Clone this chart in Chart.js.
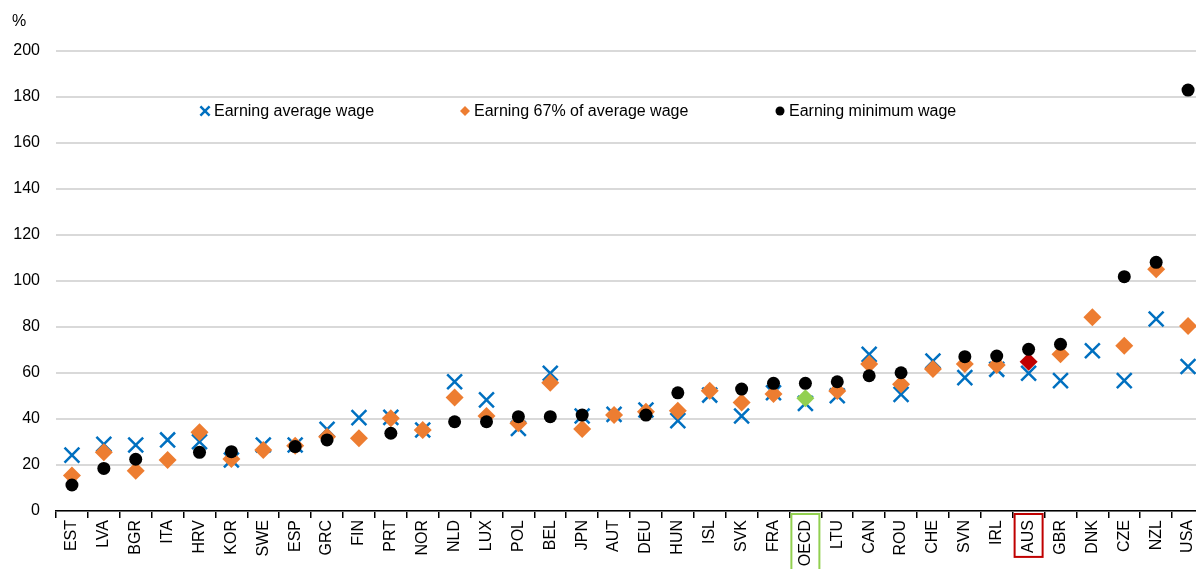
<!DOCTYPE html>
<html>
<head>
<meta charset="utf-8">
<script src="https://cdn.jsdelivr.net/npm/chart.js@4.4.1/dist/chart.umd.min.js"></script>
<style>
  html, body { margin: 0; background: #fff; overflow: hidden; }
  #outer { width: 1196px; height: 569px; overflow: hidden; }
  #wrap { width: 1204px; height: 569px; position: relative; }
</style>
</head>
<body>
<div id="outer"><div id="wrap"><canvas id="wageChart"></canvas></div></div>
<script>
const countries = ['EST','LVA','BGR','ITA','HRV','KOR','SWE','ESP','GRC','FIN','PRT','NOR','NLD','LUX','POL','BEL','JPN','AUT','DEU','HUN','ISL','SVK','FRA','OECD','LTU','CAN','ROU','CHE','SVN','IRL','AUS','GBR','DNK','CZE','NZL','USA'];

const averageWage = [24.3, 29, 28.7, 30.9, 30.1, 22.2, 28.7, 28.7, 35.5, 40.6, 40.7, 35.2, 56.2, 48.3, 35.9, 59.9, 41.3, 42, 43.9, 39.3, 50.4, 41.3, 51.4, 46.8, 50.1, 68.1, 50.7, 65.2, 58, 61.6, 59.9, 56.7, 69.7, 56.7, 83.5, 62.8];
const wage67 = [15.4, 25.5, 17.5, 22.2, 34.2, 22.6, 26.5, 28.4, 32.3, 31.6, 40.3, 35.2, 49.3, 41.3, 38.1, 55.8, 35.6, 41.7, 43.2, 43.6, 52.3, 47.2, 50.9, 49, 52.2, 63.9, 55.1, 61.7, 63.9, 63.5, 64.9, 68.1, 84.2, 71.9, 105.1, 80.4];
const minimumWage = [11.3, 18.5, 22.5, null, 25.5, 25.8, null, 28, 30.9, null, 33.8, null, 38.8, 38.8, 41, 41, 41.7, null, 41.7, 51.4, null, 53, 55.5, 55.5, 56.2, 58.8, 60.1, null, 67.1, 67.4, 70.3, 72.5, null, 101.9, 108.1, 183];

const yTicks = [0, 20, 40, 60, 80, 100, 120, 140, 160, 180, 200];
const seriesNames = ['Earning average wage', 'Earning 67% of average wage', 'Earning minimum wage'];

const BLUE = '#0070C0';
const ORANGE = '#ED7D31';
const GREEN = '#92D050';
const RED = '#C00000';
const FONT = "'Liberation Sans', Arial, sans-serif";
const FSIZE = 16;

// diamonds: OECD green, AUS red, rest orange
const diamondColors = countries.map(c => c === 'OECD' ? GREEN : (c === 'AUS' ? RED : ORANGE));
const boxColors = { OECD: GREEN, AUS: RED };

const extrasPlugin = {
  id: 'extras',
  afterDraw(chart) {
    const ctx = chart.ctx;
    const x = chart.scales.x;
    ctx.save();
    // % unit label
    ctx.fillStyle = '#000';
    ctx.font = FSIZE + 'px ' + FONT;
    ctx.textBaseline = 'middle';
    ctx.textAlign = 'left';
    ctx.fillText('%', 12, 22);

    // legend inside the plot
    const ly = 111;
    const items = [
      { x: 205, style: 'crossRot', color: BLUE, r: 6.5, bw: 2.5 },
      { x: 465, style: 'rectRot', color: ORANGE, r: 5, bw: 0 },
      { x: 780, style: 'circle', color: '#000', r: 4.5, bw: 0 }
    ];
    items.forEach((it, i) => {
      ctx.strokeStyle = it.color;
      ctx.fillStyle = it.color;
      ctx.lineWidth = it.bw;
      Chart.helpers.drawPoint(ctx, { pointStyle: it.style, radius: it.r, borderWidth: it.bw, rotation: 0 }, it.x, ly);
      ctx.fillStyle = '#000';
      ctx.font = FSIZE + 'px ' + FONT;
      ctx.textAlign = 'left';
      ctx.textBaseline = 'middle';
      ctx.fillText(seriesNames[i], it.x + 9, ly + 1);
    });

    // boxes round highlighted labels
    ctx.font = FSIZE + 'px ' + FONT;
    Object.keys(boxColors).forEach(name => {
      const idx = countries.indexOf(name);
      const cx = x.getPixelForValue(idx);
      const w = ctx.measureText(name).width;
      ctx.strokeStyle = boxColors[name];
      ctx.lineWidth = 2;
      ctx.strokeRect(cx - 14, x.top + 3, 28, w + 10);
    });
    ctx.restore();
  }
};

new Chart(document.getElementById('wageChart'), {
  type: 'line',
  data: {
    labels: countries,
    datasets: [
      {
        label: seriesNames[0],
        data: averageWage,
        showLine: false,
        pointStyle: 'crossRot',
        pointRadius: 10.5,
        pointBorderWidth: 2.5,
        pointBorderColor: BLUE,
        pointBackgroundColor: BLUE,
        order: 3
      },
      {
        label: seriesNames[1],
        data: wage67,
        showLine: false,
        pointStyle: 'rectRot',
        pointRadius: 9,
        pointBorderWidth: 0,
        pointBorderColor: diamondColors,
        pointBackgroundColor: diamondColors,
        order: 2
      },
      {
        label: seriesNames[2],
        data: minimumWage,
        showLine: false,
        pointStyle: 'circle',
        pointRadius: 6.5,
        pointBorderWidth: 0,
        pointBorderColor: '#000',
        pointBackgroundColor: '#000',
        order: 1
      }
    ]
  },
  options: {
    responsive: true,
    maintainAspectRatio: false,
    animation: false,
    layout: { autoPadding: false, padding: { top: 51, right: 0, bottom: 0, left: 0 } },
    plugins: {
      legend: { display: false },
      tooltip: { enabled: false }
    },
    scales: {
      x: {
        offset: true,
        grid: {
          offset: true,
          drawOnChartArea: false,
          drawTicks: true,
          tickLength: 7,
          color: '#000',
          lineWidth: 1.5
        },
        border: { display: true, color: '#000', width: 1.5 },
        ticks: {
          autoSkip: false,
          maxRotation: 90,
          minRotation: 90,
          padding: 2,
          color: '#000',
          font: { family: FONT, size: FSIZE }
        },
        afterFit(scale) {
          scale.height = 58;
          scale.paddingLeft = 0;
          scale.paddingRight = 0;
        }
      },
      y: {
        min: 0,
        max: 200,
        afterBuildTicks(scale) { scale.ticks = yTicks.map(v => ({ value: v })); },
        grid: { color: '#D9D9D9', lineWidth: 2, drawTicks: false },
        border: { display: false },
        ticks: {
          padding: 16,
          color: '#000',
          font: { family: FONT, size: FSIZE }
        },
        afterFit(scale) {
          scale.width = 56;
          scale.paddingTop = 0;
          scale.paddingBottom = 0;
        }
      }
    }
  },
  plugins: [extrasPlugin]
});
</script>
</body>
</html>
